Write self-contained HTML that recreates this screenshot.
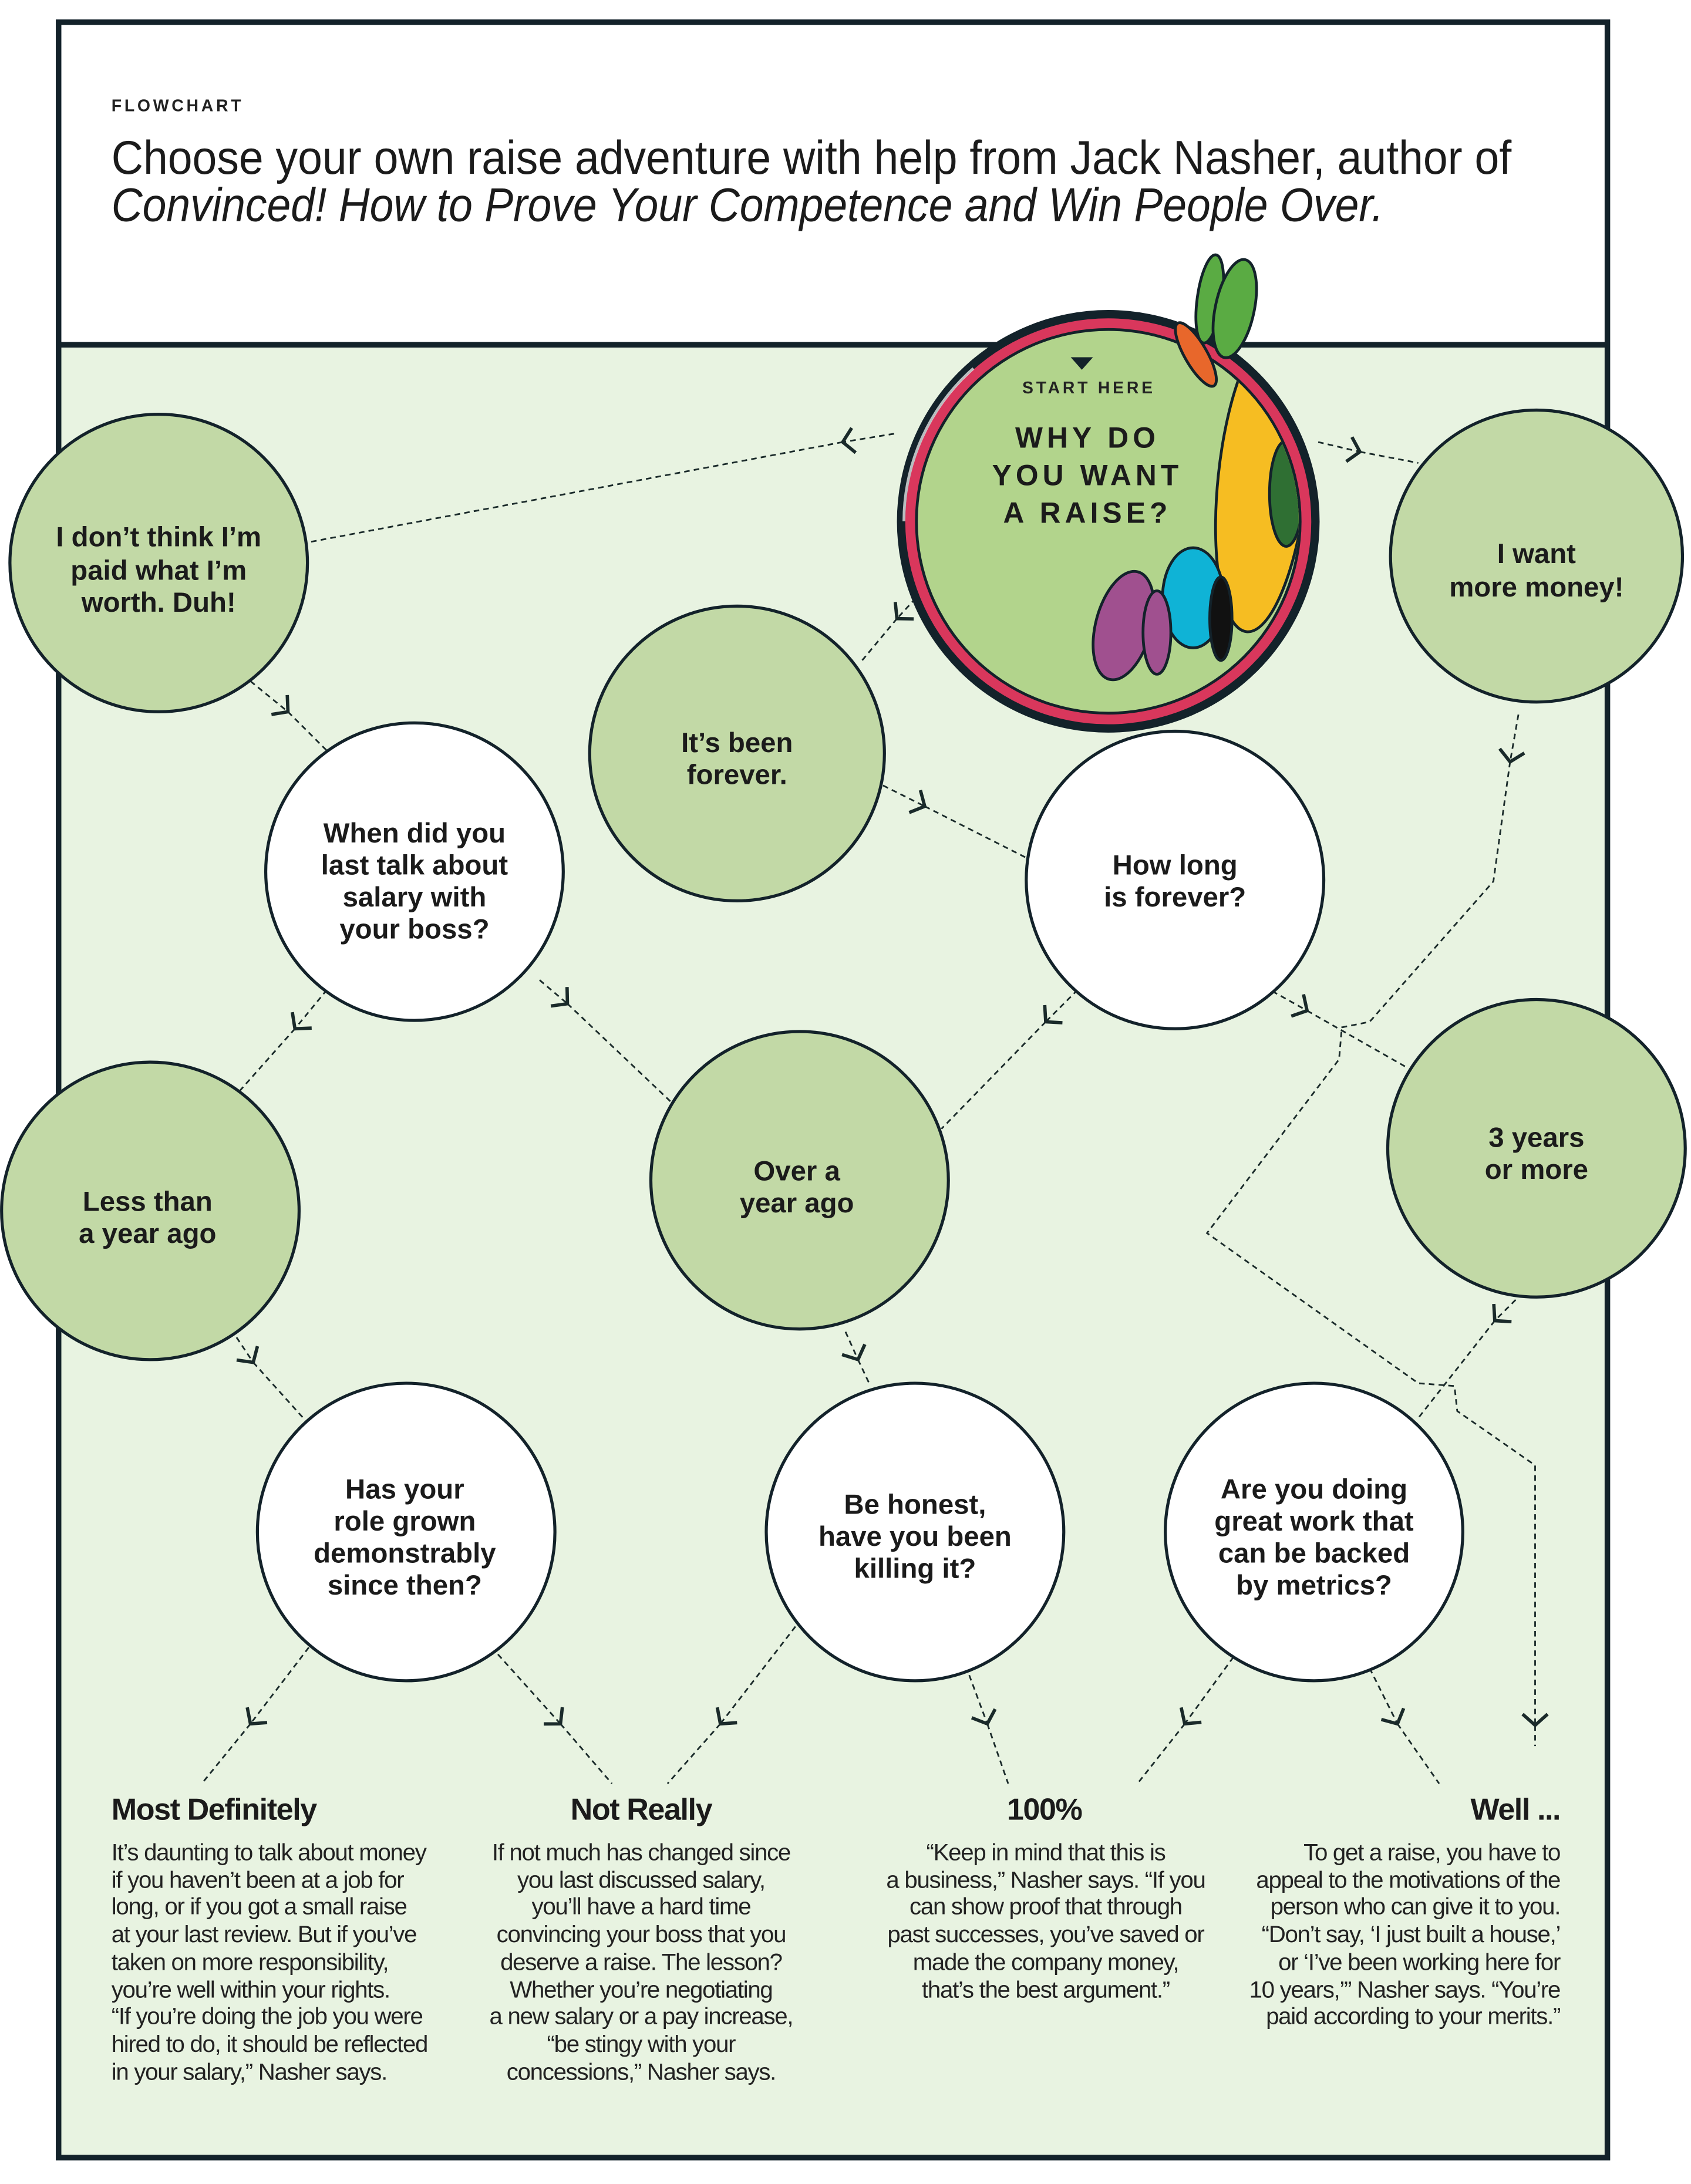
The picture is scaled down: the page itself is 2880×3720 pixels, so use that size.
<!DOCTYPE html>
<html><head><meta charset="utf-8">
<style>
html,body{margin:0;padding:0;background:#fff;}
svg{display:block;}
.ct{font-family:"Liberation Sans",sans-serif;font-weight:bold;font-size:20px;fill:#1b1b1b;text-anchor:middle;}
.bd{font-family:"Liberation Sans",sans-serif;font-size:17px;fill:#222;letter-spacing:-0.55px;}
.hd{font-family:"Liberation Sans",sans-serif;font-weight:bold;font-size:22px;fill:#1b1b1b;letter-spacing:-0.6px;}
.cn{fill:none;stroke:#1a2a2a;stroke-width:1.2;stroke-dasharray:4 3;}
</style></head>
<body>
<svg width="2880" height="3720" viewBox="0 0 1216 1571" xmlns="http://www.w3.org/2000/svg">
<defs>
<marker id="ch" markerUnits="userSpaceOnUse" markerWidth="24" markerHeight="24" refX="12" refY="12" orient="auto" viewBox="0 0 24 24">
<path d="M4,3 L12,12 L4,21" fill="none" stroke="#1a2a2a" stroke-width="2.4"/>
</marker>
<clipPath id="inner"><circle cx="797" cy="375" r="137"/></clipPath>
</defs>
<rect width="1216" height="1571" fill="#fff"/>
<rect x="42" y="248" width="1114" height="1304" fill="#e8f3e1"/>
<rect x="42" y="16" width="1114" height="1536" fill="none" stroke="#13222a" stroke-width="4"/>
<line x1="42" y1="248" x2="1156" y2="248" stroke="#13222a" stroke-width="4"/>

<text x="80" y="80" font-family="Liberation Sans,sans-serif" font-weight="bold" font-size="12" letter-spacing="2" fill="#222">FLOWCHART</text>
<text x="80" y="125" font-family="Liberation Sans,sans-serif" font-size="34" fill="#1b1b1b" textLength="1007" lengthAdjust="spacingAndGlyphs">Choose your own raise adventure with help from Jack Nasher, author of</text>
<text x="80" y="159" font-family="Liberation Sans,sans-serif" font-style="italic" font-size="34" fill="#1b1b1b" textLength="915" lengthAdjust="spacingAndGlyphs">Convinced! How to Prove Your Competence and Win People Over.</text>

<g class="cn">
<path d="M643,312 L606,318" marker-end="url(#ch)"/><path d="M606,318 L222,390"/>
<path d="M948,318 L978,325" marker-end="url(#ch)"/><path d="M978,325 L1020,333"/>
<path d="M668,420 L645,445" marker-end="url(#ch)"/><path d="M645,445 L620,475"/>
<path d="M180,490 L207,512" marker-end="url(#ch)"/><path d="M207,512 L235,540"/>
<path d="M635,565 L665,580" marker-end="url(#ch)"/><path d="M665,580 L738,617"/>
<path d="M235,712 L212,740" marker-end="url(#ch)"/><path d="M212,740 L172,785"/>
<path d="M388,705 L408,722" marker-end="url(#ch)"/><path d="M408,722 L485,795"/>
<path d="M775,712 L752,735" marker-end="url(#ch)"/><path d="M752,735 L677,812"/>
<path d="M915,713 L940,727" marker-end="url(#ch)"/><path d="M940,727 L1012,768"/>
<path d="M1092,514 L1086,548" marker-end="url(#ch)"/>
<path d="M1086,548 L1074,634 L985,735 L965,739 L963,762 L868,887 L1020,995 L1046,997 L1048,1015 L1104,1054 L1104,1241" marker-end="url(#ch)"/>
<path d="M1104,1241 L1104,1256"/>
<path d="M608,958 L617,978" marker-end="url(#ch)"/><path d="M617,978 L625,995"/>
<path d="M170,962 L182,980" marker-end="url(#ch)"/><path d="M182,980 L218,1020"/>
<path d="M1090,935 L1075,950" marker-end="url(#ch)"/><path d="M1075,950 L1020,1020"/>
<path d="M222,1185 L180,1240" marker-end="url(#ch)"/><path d="M180,1240 L145,1283"/>
<path d="M358,1190 L403,1240" marker-end="url(#ch)"/><path d="M403,1240 L440,1283"/>
<path d="M572,1170 L518,1240" marker-end="url(#ch)"/><path d="M518,1240 L480,1283"/>
<path d="M697,1205 L710,1240" marker-end="url(#ch)"/><path d="M710,1240 L725,1283"/>
<path d="M887,1192 L852,1240" marker-end="url(#ch)"/><path d="M852,1240 L818,1283"/>
<path d="M985,1200 L1005,1240" marker-end="url(#ch)"/><path d="M1005,1240 L1035,1283"/>
</g>

<g stroke="#13222a" stroke-width="2.2">
<circle cx="114" cy="405" r="107" fill="#c2d9a6"/>
<circle cx="1105" cy="400" r="105" fill="#c2d9a6"/>
<circle cx="530" cy="542" r="106" fill="#c2d9a6"/>
<circle cx="298" cy="627" r="107" fill="#fff"/>
<circle cx="845" cy="633" r="107" fill="#fff"/>
<circle cx="108" cy="871" r="107" fill="#c2d9a6"/>
<circle cx="575" cy="849" r="107" fill="#c2d9a6"/>
<circle cx="1105" cy="826" r="107" fill="#c2d9a6"/>
<circle cx="292" cy="1102" r="107" fill="#fff"/>
<circle cx="658" cy="1102" r="107" fill="#fff"/>
<circle cx="945" cy="1102" r="107" fill="#fff"/>
</g>

<circle cx="797" cy="375" r="152" fill="#13222a"/>
<circle cx="797" cy="375" r="146" fill="#d9375c"/>
<circle cx="797" cy="375" r="139" fill="#13222a"/>
<circle cx="797" cy="375" r="137" fill="#b2d48c"/>
<g clip-path="url(#inner)" stroke="#13222a" stroke-width="2">
<ellipse cx="908" cy="345" rx="32" ry="110" fill="#f6bd22" transform="rotate(6 908 345)"/>
<ellipse cx="925" cy="355" rx="12" ry="38" fill="#2f6f33"/>
<ellipse cx="858" cy="430" rx="22" ry="36" fill="#0fb3d6"/>
<ellipse cx="808" cy="450" rx="20" ry="40" fill="#a0508f" transform="rotate(15 808 450)"/>
<ellipse cx="832" cy="455" rx="10" ry="30" fill="#a0508f"/>
<ellipse cx="878" cy="445" rx="8" ry="30" fill="#111"/>
</g>
<g stroke="#13222a" stroke-width="2">
<ellipse cx="870" cy="215" rx="9" ry="32" fill="#5aab43" transform="rotate(8 870 215)"/>
<ellipse cx="888" cy="222" rx="14" ry="36" fill="#5aab43" transform="rotate(12 888 222)"/>
<ellipse cx="860" cy="255" rx="8" ry="26" fill="#e8672b" transform="rotate(-30 860 255)"/>
</g>
<path d="M650,375 A147,147 0 0 1 700,265" fill="none" stroke="#fff" stroke-width="2" opacity="0.7"/>
<path d="M770,257 L786,257 L778,266 Z" fill="#13222a"/>
<text x="783" y="283" font-family="Liberation Sans,sans-serif" font-weight="bold" font-size="12" letter-spacing="2" text-anchor="middle" fill="#222">START HERE</text>
<g font-family="Liberation Sans,sans-serif" font-weight="bold" font-size="21" letter-spacing="3" text-anchor="middle" fill="#1b1b1b">
<text x="782" y="322">WHY DO</text>
<text x="782" y="349">YOU WANT</text>
<text x="782" y="376">A RAISE?</text>
</g>

<text class="ct" x="114" y="393">I don’t think I’m</text>
<text class="ct" x="114" y="417">paid what I’m</text>
<text class="ct" x="114" y="440">worth. Duh!</text>
<text class="ct" x="1105" y="405">I want</text>
<text class="ct" x="1105" y="429">more money!</text>
<text class="ct" x="530" y="541">It’s been</text>
<text class="ct" x="530" y="564">forever.</text>
<text class="ct" x="298" y="606">When did you</text>
<text class="ct" x="298" y="629">last talk about</text>
<text class="ct" x="298" y="652">salary with</text>
<text class="ct" x="298" y="675">your boss?</text>
<text class="ct" x="845" y="629">How long</text>
<text class="ct" x="845" y="652">is forever?</text>
<text class="ct" x="106" y="871">Less than</text>
<text class="ct" x="106" y="894">a year ago</text>
<text class="ct" x="573" y="849">Over a</text>
<text class="ct" x="573" y="872">year ago</text>
<text class="ct" x="1105" y="825">3 years</text>
<text class="ct" x="1105" y="848">or more</text>
<text class="ct" x="291" y="1078">Has your</text>
<text class="ct" x="291" y="1101">role grown</text>
<text class="ct" x="291" y="1124">demonstrably</text>
<text class="ct" x="291" y="1147">since then?</text>
<text class="ct" x="658" y="1089">Be honest,</text>
<text class="ct" x="658" y="1112">have you been</text>
<text class="ct" x="658" y="1135">killing it?</text>
<text class="ct" x="945" y="1078">Are you doing</text>
<text class="ct" x="945" y="1101">great work that</text>
<text class="ct" x="945" y="1124">can be backed</text>
<text class="ct" x="945" y="1147">by metrics?</text>

<text class="hd" x="80" y="1309">Most Definitely</text>
<text class="hd" x="461" y="1309" text-anchor="middle">Not Really</text>
<text class="hd" x="751" y="1309" text-anchor="middle">100%</text>
<text class="hd" x="1122" y="1309" text-anchor="end">Well ...</text>

<g class="bd">
<text x="80" y="1338">It’s daunting to talk about money</text>
<text x="80" y="1358">if you haven’t been at a job for</text>
<text x="80" y="1377">long, or if you got a small raise</text>
<text x="80" y="1397">at your last review. But if you’ve</text>
<text x="80" y="1417">taken on more responsibility,</text>
<text x="80" y="1437">you’re well within your rights.</text>
<text x="80" y="1456">“If you’re doing the job you were</text>
<text x="80" y="1476">hired to do, it should be reflected</text>
<text x="80" y="1496">in your salary,” Nasher says.</text>
</g>
<g class="bd" text-anchor="middle">
<text x="461" y="1338">If not much has changed since</text>
<text x="461" y="1358">you last discussed salary,</text>
<text x="461" y="1377">you’ll have a hard time</text>
<text x="461" y="1397">convincing your boss that you</text>
<text x="461" y="1417">deserve a raise. The lesson?</text>
<text x="461" y="1437">Whether you’re negotiating</text>
<text x="461" y="1456">a new salary or a pay increase,</text>
<text x="461" y="1476">“be stingy with your</text>
<text x="461" y="1496">concessions,” Nasher says.</text>
<text x="752" y="1338">“Keep in mind that this is</text>
<text x="752" y="1358">a business,” Nasher says. “If you</text>
<text x="752" y="1377">can show proof that through</text>
<text x="752" y="1397">past successes, you’ve saved or</text>
<text x="752" y="1417">made the company money,</text>
<text x="752" y="1437">that’s the best argument.”</text>
</g>
<g class="bd" text-anchor="end">
<text x="1122" y="1338">To get a raise, you have to</text>
<text x="1122" y="1358">appeal to the motivations of the</text>
<text x="1122" y="1377">person who can give it to you.</text>
<text x="1122" y="1397">“Don’t say, ‘I just built a house,’</text>
<text x="1122" y="1417">or ‘I’ve been working here for</text>
<text x="1122" y="1437">10 years,’” Nasher says. “You’re</text>
<text x="1122" y="1456">paid according to your merits.”</text>
</g>
</svg>
</body></html>
